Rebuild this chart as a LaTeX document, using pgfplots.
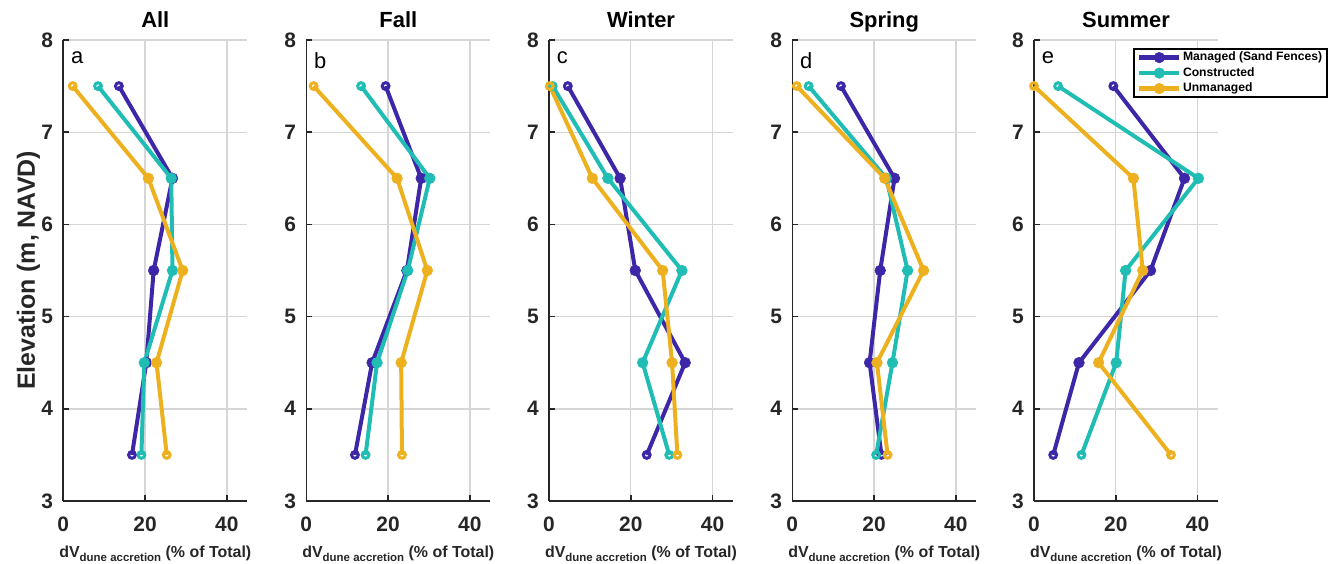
\documentclass[border=0pt]{standalone}
\usepackage{fontspec}
\setmainfont{Liberation Sans}
\usepackage{pgfplots}
\usepackage{pgfplotstable}
\pgfplotsset{compat=1.18}

\definecolor{managed}{HTML}{3E26A8}
\definecolor{constructed}{HTML}{1FBDB4}
\definecolor{unmanaged}{HTML}{EDB120}
\definecolor{axisgray}{HTML}{262626}
\definecolor{gridgray}{HTML}{D6D6D6}

\pgfplotstableread{
y   man  con  unm
7.5 13.6 8.5  2.3
6.5 26.7 26.4 20.8
5.5 22.1 26.7 29.2
4.5 20.3 19.8 22.8
3.5 16.8 19.1 25.3
}\tabA
\pgfplotstableread{
y   man  con  unm
7.5 19.4 13.4 1.8
6.5 28.1 30.2 22.2
5.5 24.6 24.8 29.6
4.5 16.1 17.3 23.2
3.5 11.9 14.5 23.4
}\tabB
\pgfplotstableread{
y   man  con  unm
7.5 4.6  0.9  0.2
6.5 17.4 14.4 10.6
5.5 21.1 32.5 27.8
4.5 33.3 22.9 30.1
3.5 23.9 29.4 31.4
}\tabC
\pgfplotstableread{
y   man  con  unm
7.5 11.9 4.0  1.1
6.5 25.0 23.0 22.6
5.5 21.5 28.2 32.1
4.5 18.9 24.5 20.7
3.5 21.8 20.5 23.3
}\tabD
\pgfplotstableread{
y   man  con  unm
7.5 19.4 5.9  0.0
6.5 36.8 40.2 24.3
5.5 28.5 22.4 26.6
4.5 11.0 20.1 15.8
3.5 4.7  11.6 33.5
}\tabE

\pgfplotsset{
  panel/.style={
    scale only axis, width=184bp, height=461bp,
    xmin=0, xmax=45, ymin=3, ymax=8,
    xtick={0,20,40}, ytick={3,4,5,6,7,8},
    axis x line*=bottom, axis y line*=left,
    axis line style={line width=1.6bp, color=axisgray, -},
    major tick style={line width=1.6bp, color=axisgray},
    major tick length=6bp, tick align=inside,
    grid=major, grid style={line width=1.4bp, color=gridgray},
    /pgf/number format/assume math mode=true,
    tick label style={font=\fontsize{21}{21}\selectfont\bfseries, text=axisgray, inner sep=0pt},
    xticklabel style={anchor=north, yshift=-16bp},
    yticklabel style={anchor=east, xshift=-10bp},
    title style={font=\fontsize{22}{22}\selectfont\bfseries, at={(axis description cs:0.5,1)}, anchor=base, yshift=7bp, inner sep=0pt},
    xlabel={dV\raisebox{-4bp}{\fontsize{11.5}{11.5}\selectfont dune accretion} (\% of Total)},
    xlabel style={font=\fontsize{16}{16}\selectfont\bfseries, text=axisgray, at={(axis description cs:0.5,0)}, anchor=base, yshift=-56bp, inner sep=0pt},
    clip=false,
    legend image code/.code={\draw[#1, line width=4.5bp, mark indices={2}, mark size=5.3bp] plot coordinates {(0bp,0bp) (20bp,0bp) (40bp,0bp)};},
  },
  ser/.style={color=#1, line width=4bp, mark=*, mark size=5.4bp, mark indices={2,3,4}, mark options={solid, line width=0.5bp, fill=#1}},
  ends/.style={color=#1, only marks, mark=o, mark size=3.4bp, mark indices={1,5}, mark options={line width=3bp, fill=white}, forget plot},
}

\newcommand{\letter}[1]{\node[anchor=north west, inner sep=0pt, font=\fontsize{22}{22}\selectfont] at (axis description cs:0.042,0.974) {#1};}

\begin{document}
\begin{tikzpicture}
\path[use as bounding box] (-63.3bp,-63bp) rectangle (1268.7bp,501bp);

\begin{axis}[panel, at={(0bp,0bp)}, title={All},
  ylabel={Elevation (m, NAVD)},
  ylabel style={font=\fontsize{25}{25}\selectfont\bfseries, text=axisgray, at={(axis description cs:-0.19,0.5)}, anchor=center, inner sep=0pt}]
\addplot[ser=managed] table[x=man,y=y]{\tabA};
\addplot[ends=managed] table[x=man,y=y]{\tabA};
\addplot[ser=constructed] table[x=con,y=y]{\tabA};
\addplot[ends=constructed] table[x=con,y=y]{\tabA};
\addplot[ser=unmanaged] table[x=unm,y=y]{\tabA};
\addplot[ends=unmanaged] table[x=unm,y=y]{\tabA};
\letter{a}
\end{axis}

\begin{axis}[panel, at={(243bp,0bp)}, title={Fall}]
\addplot[ser=managed] table[x=man,y=y]{\tabB};
\addplot[ends=managed] table[x=man,y=y]{\tabB};
\addplot[ser=constructed] table[x=con,y=y]{\tabB};
\addplot[ends=constructed] table[x=con,y=y]{\tabB};
\addplot[ser=unmanaged] table[x=unm,y=y]{\tabB};
\addplot[ends=unmanaged] table[x=unm,y=y]{\tabB};
\letter{b}
\end{axis}

\begin{axis}[panel, at={(485.7bp,0bp)}, title={Winter}]
\addplot[ser=managed] table[x=man,y=y]{\tabC};
\addplot[ends=managed] table[x=man,y=y]{\tabC};
\addplot[ser=constructed] table[x=con,y=y]{\tabC};
\addplot[ends=constructed] table[x=con,y=y]{\tabC};
\addplot[ser=unmanaged] table[x=unm,y=y]{\tabC};
\addplot[ends=unmanaged] table[x=unm,y=y]{\tabC};
\letter{c}
\end{axis}

\begin{axis}[panel, at={(729bp,0bp)}, title={Spring}]
\addplot[ser=managed] table[x=man,y=y]{\tabD};
\addplot[ends=managed] table[x=man,y=y]{\tabD};
\addplot[ser=constructed] table[x=con,y=y]{\tabD};
\addplot[ends=constructed] table[x=con,y=y]{\tabD};
\addplot[ser=unmanaged] table[x=unm,y=y]{\tabD};
\addplot[ends=unmanaged] table[x=unm,y=y]{\tabD};
\letter{d}
\end{axis}

\begin{axis}[panel, at={(970.7bp,0bp)}, title={Summer},
  legend style={at={(axis description cs:1.596,0.983)}, anchor=north east,
    draw=black, line width=2bp, fill=white,
    font=\fontsize{12.2}{12.2}\selectfont\bfseries,
    inner xsep=3bp, inner ysep=1bp,
    nodes={inner xsep=1.5bp, inner ysep=2bp, text height=9bp, text depth=2.5bp},
    /tikz/every even column/.append style={column sep=0bp}},
  legend cell align=left]
\addplot[ser=managed] table[x=man,y=y]{\tabE};
\addplot[ends=managed] table[x=man,y=y]{\tabE};
\addplot[ser=constructed] table[x=con,y=y]{\tabE};
\addplot[ends=constructed] table[x=con,y=y]{\tabE};
\addplot[ser=unmanaged] table[x=unm,y=y]{\tabE};
\addplot[ends=unmanaged] table[x=unm,y=y]{\tabE};
\legend{Managed (Sand Fences), Constructed, Unmanaged}
\letter{e}
\end{axis}
\end{tikzpicture}
\end{document}
